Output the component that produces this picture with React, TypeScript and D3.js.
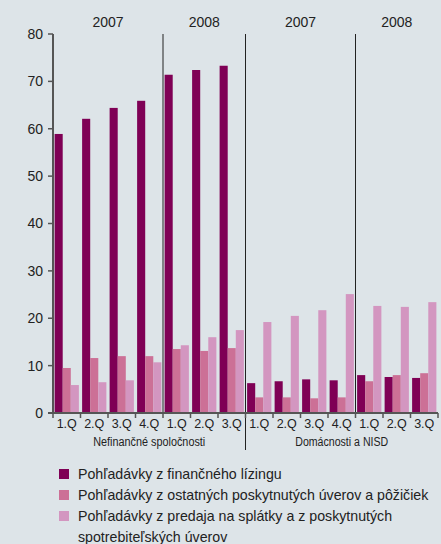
import React from "react";
import * as d3 from "d3";

// Quarters per segment, in order
const quarters = ["1.Q", "2.Q", "3.Q", "4.Q", "1.Q", "2.Q", "3.Q", "1.Q", "2.Q", "3.Q", "4.Q", "1.Q", "2.Q", "3.Q"];
const yearLabels = ["2007", "2008", "2007", "2008"];
const yearSpans = [[0, 4], [4, 7], [7, 11], [11, 14]];
const sectorLabels = ["Nefinančné spoločnosti", "Domácnosti a NISD"];
const sectorSpans = [[0, 7], [7, 14]];

const leasing = [58.9, 62.1, 64.4, 65.9, 71.4, 72.4, 73.3, 6.3, 6.7, 7.1, 6.9, 8.0, 7.6, 7.4];
const otherLoans = [9.5, 11.6, 12.0, 12.0, 13.5, 13.1, 13.7, 3.3, 3.3, 3.1, 3.3, 6.7, 8.0, 8.4];
const installments = [5.9, 6.5, 6.9, 10.7, 14.3, 16.0, 17.5, 19.2, 20.5, 21.7, 25.1, 22.6, 22.4, 23.4];

const seriesNames = [
  "Pohľadávky z finančného lízingu",
  "Pohľadávky z ostatných poskytnutých úverov a pôžičiek",
  "Pohľadávky z predaja na splátky a z poskytnutých|spotrebiteľských úverov",
];
const seriesColors = ["#7f0055", "#cc7096", "#d396c0"];
const yTicks = [0, 10, 20, 30, 40, 50, 60, 70, 80];

const W = 441;
const H = 544;
const left = 53;
const right = 438;
const top = 34;
const bottom = 413;

export default function App() {
  const idx = quarters.map((_, i) => i);
  const x = d3.scaleBand<number>().domain(idx).range([left, right]).paddingInner(0).paddingOuter(0);
  const inner = d3.scaleBand<number>().domain([0, 1, 2]).range([0, x.bandwidth()]).paddingOuter(0.2).paddingInner(0);
  const y = d3.scaleLinear().domain([0, 80]).range([bottom, top]);
  const series = [leasing, otherLoans, installments];
  const edge = (i: number) => left + i * x.bandwidth();
  const font = "'Liberation Sans', Arial, sans-serif";
  const sectorWidths = [112, 93];

  return (
    <div style={{ position: "fixed", left: 0, top: 0 }}>
      <svg width={W} height={H} style={{ display: "block", background: "#dde4e8" }}>
        {/* bars */}
        {series.map((vals, s) =>
          vals.map((v, i) => (
            <rect
              key={`b${s}-${i}`}
              x={(x(i) as number) + (inner(s) as number)}
              y={y(v)}
              width={inner.bandwidth()}
              height={y(0) - y(v)}
              fill={seriesColors[s]}
            />
          ))
        )}
        {/* separators between years and sectors */}
        <line x1={edge(4)} x2={edge(4)} y1={top} y2={bottom} stroke="#222" strokeWidth={1} />
        <line x1={edge(7)} x2={edge(7)} y1={top} y2={450} stroke="#222" strokeWidth={1} />
        <line x1={edge(11)} x2={edge(11)} y1={top} y2={bottom + 4} stroke="#222" strokeWidth={1} />
        {/* y axis */}
        <line x1={left} x2={left} y1={top} y2={bottom} stroke="#555" strokeWidth={2} />
        {yTicks.map((t) => (
          <g key={`t${t}`}>
            <line x1={left - 5} x2={left} y1={y(t)} y2={y(t)} stroke="#555" strokeWidth={1.5} />
            <text x={left - 10} y={y(t)} dy="0.35em" textAnchor="end" fontFamily={font} fontSize={14} fill="#222">
              {t}
            </text>
          </g>
        ))}
        {/* x axis */}
        <line x1={left - 5} x2={right} y1={bottom} y2={bottom} stroke="#555" strokeWidth={2} />
        {d3.range(quarters.length + 1).map((i) => (
          <line key={`xt${i}`} x1={edge(i)} x2={edge(i)} y1={bottom} y2={bottom + 5} stroke="#555" strokeWidth={1.5} />
        ))}
        {quarters.map((q, i) => (
          <text key={`q${i}`} x={(x(i) as number) + x.bandwidth() / 2} y={bottom + 15} textAnchor="middle" fontFamily={font} fontSize={12.5} fill="#222">
            {q}
          </text>
        ))}
        {sectorLabels.map((s, i) => {
          const cx = (edge(sectorSpans[i][0]) + edge(sectorSpans[i][1])) / 2;
          return (
            <text
              key={`s${i}`}
              x={cx - sectorWidths[i] / 2}
              y={bottom + 33}
              textLength={sectorWidths[i]}
              lengthAdjust="spacingAndGlyphs"
              fontFamily={font}
              fontSize={12.5}
              fill="#222"
            >
              {s}
            </text>
          );
        })}
        {yearLabels.map((yl, i) => (
          <text key={`y${i}`} x={(edge(yearSpans[i][0]) + edge(yearSpans[i][1])) / 2} y={27} textAnchor="middle" fontFamily={font} fontSize={14} fill="#222">
            {yl}
          </text>
        ))}
        {/* legend */}
        {seriesNames.map((name, i) => (
          <g key={`l${i}`} transform={`translate(59, ${469 + i * 21})`}>
            <rect width={10} height={10} fill={seriesColors[i]} />
            {name.split("|").map((line, j) => (
              <text key={j} x={19} y={10 + j * 21} fontFamily={font} fontSize={14.2} fill="#222">
                {line}
              </text>
            ))}
          </g>
        ))}
      </svg>
    </div>
  );
}
